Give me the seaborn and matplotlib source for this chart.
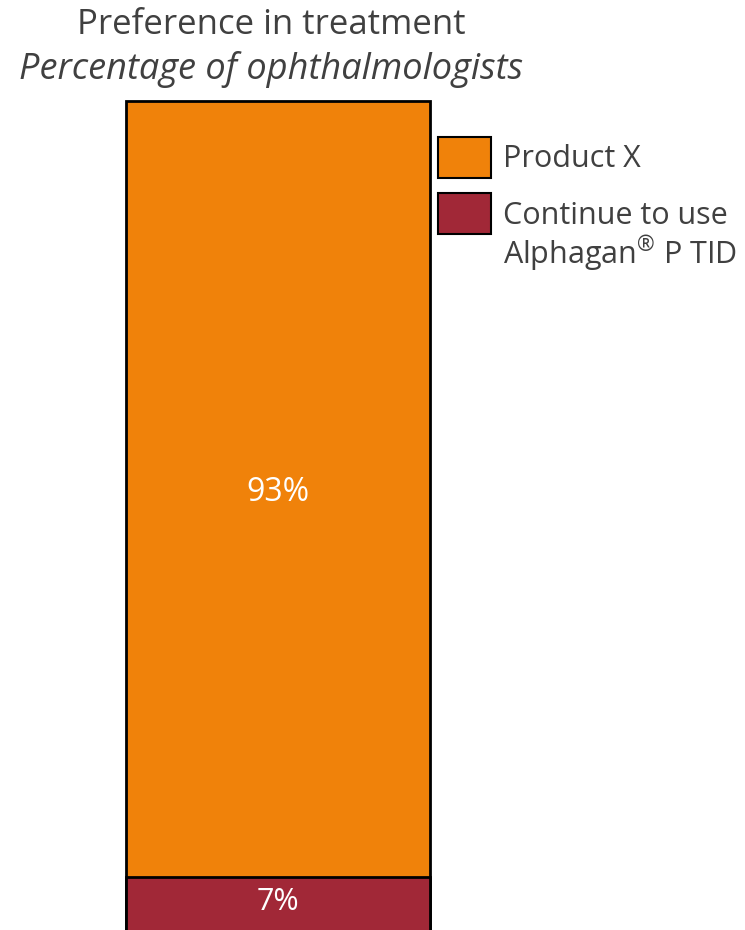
import matplotlib
matplotlib.use("Agg")
import matplotlib.pyplot as plt
import seaborn as sns
import pandas as pd
from matplotlib.patches import Patch

# Data
categories = ["Preference"]
series_names = ["Product X", "Continue to use"]
series_extra_line = ["", "Alphagan$^{®}$ P TID"]
product_x = [93]
continue_alphagan = [7]
colors = ["#F0820A", "#A12837"]

sns.set_theme(style="white")
plt.rcParams['font.family'] = ['Open Sans', 'DejaVu Sans']
plt.rcParams['mathtext.fontset'] = 'custom'
plt.rcParams['mathtext.rm'] = 'Open Sans'
plt.rcParams['mathtext.it'] = 'Open Sans:italic'

TXT = "#404040"
W, H = 745, 930
fig = plt.figure(figsize=(W / 100, H / 100), dpi=100)
ax = fig.add_axes([126/W, -5/H, 304/W, (935-101)/H])

totals = [a + b for a, b in zip(product_x, continue_alphagan)]
df_top = pd.DataFrame({"cat": categories, "val": totals})
df_bot = pd.DataFrame({"cat": categories, "val": continue_alphagan})

sns.barplot(data=df_top, x="cat", y="val", color=colors[0], width=1.0,
            edgecolor="black", linewidth=2, ax=ax, saturation=1)
sns.barplot(data=df_bot, x="cat", y="val", color=colors[1], width=1.0,
            edgecolor="black", linewidth=2, ax=ax, saturation=1)
for p in ax.patches:
    p.set_clip_on(False)

ax.set_xlim(-0.5, 0.5)
ax.set_ylim(0, 100)
ax.axis("off")

# Value labels
for i, (b, t) in enumerate(zip(continue_alphagan, product_x)):
    ax.text(i, b + t / 2 - 0.5, f"{t}%", ha="center", va="center", color="white", fontsize=23)
    ax.text(i, b / 2 + 0.4, f"{b}%", ha="center", va="center", color="white", fontsize=22)

# Title
fig.text(271/W, 1 - 25/H, "Preference in treatment", ha="center", va="center",
         fontsize=25, color=TXT)
fig.text(271/W, 1 - 70/H, "Percentage of ophthalmologists", ha="center", va="center",
         fontsize=26, color=TXT, style="italic")

handles = [Patch(facecolor=c, edgecolor="black", linewidth=1.5) for c in colors]
leg = fig.legend(handles, series_names, loc="upper left",
                 bbox_to_anchor=(438/W, 1 - 137/H), frameon=False,
                 fontsize=22, handlelength=1.73, handleheight=1.68, handletextpad=0.4,
                 labelspacing=0.5, labelcolor=TXT, borderaxespad=0, borderpad=0)

fig.canvas.draw()
renderer = fig.canvas.get_renderer()
for t, extra in zip(leg.get_texts(), series_extra_line):
    if extra:
        bb = t.get_window_extent(renderer)
        fig.text(bb.x0 / W, (bb.y0 - 42) / H, extra, ha="left", va="bottom",
                 fontsize=22, color=TXT)

fig.savefig("out.png", dpi=100)
